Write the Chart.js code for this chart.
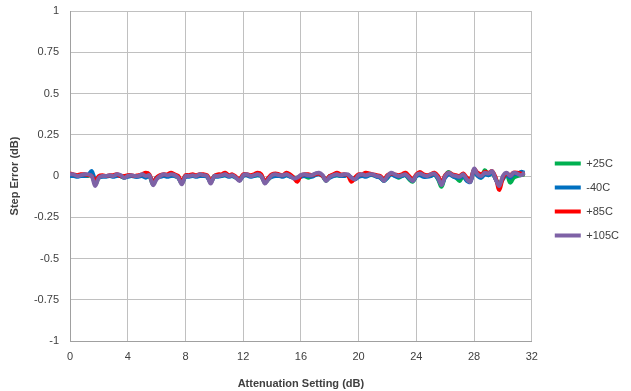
<!DOCTYPE html>
<html>
<head>
<meta charset="utf-8">
<script src="https://cdn.jsdelivr.net/npm/chart.js@4"></script>
<style>
    html, body { margin: 0; padding: 0; background: #ffffff; }
    #wrap { width: 631px; height: 391px; }
</style>
</head>
<body>
<div id="wrap"><canvas id="step-chart" width="631" height="391"></canvas></div>
<script>
//DATOS
const atten = [
    0, 0.25, 0.5, 0.75, 1, 1.25, 1.5, 1.75,
    2, 2.25, 2.5, 2.75, 3, 3.25, 3.5, 3.75,
    4, 4.25, 4.5, 4.75, 5, 5.25, 5.5, 5.75,
    6, 6.25, 6.5, 6.75, 7, 7.25, 7.5, 7.75,
    8, 8.25, 8.5, 8.75, 9, 9.25, 9.5, 9.75,
    10, 10.25, 10.5, 10.75, 11, 11.25, 11.5, 11.75,
    12, 12.25, 12.5, 12.75, 13, 13.25, 13.5, 13.75,
    14, 14.25, 14.5, 14.75, 15, 15.25, 15.5, 15.75,
    16, 16.25, 16.5, 16.75, 17, 17.25, 17.5, 17.75,
    18, 18.25, 18.5, 18.75, 19, 19.25, 19.5, 19.75,
    20, 20.25, 20.5, 20.75, 21, 21.25, 21.5, 21.75,
    22, 22.25, 22.5, 22.75, 23, 23.25, 23.5, 23.75,
    24, 24.25, 24.5, 24.75, 25, 25.25, 25.5, 25.75,
    26, 26.25, 26.5, 26.75, 27, 27.25, 27.5, 27.75,
    28, 28.25, 28.5, 28.75, 29, 29.25, 29.5, 29.75,
    30, 30.25, 30.5, 30.75, 31, 31.25, 31.5
];

const seriesNames = ['+25C', '-40C', '+85C', '+105C'];

const err25 = [
    0.005, 0.005, 0, 0.005, 0.005, 0, 0.01, -0.05,
    -0.01, 0, 0, 0, 0, 0.005, 0, -0.01,
    0, 0, 0, 0, 0.005, 0, 0, -0.05,
    -0.015, 0, 0.005, 0, 0.005, 0, -0.01, -0.045,
    0, 0, 0, 0, 0.005, 0.005, 0, -0.04,
    0, 0, 0, 0.005, 0, 0, -0.01, -0.025,
    0.005, 0.005, 0, 0, 0.005, 0, -0.04, -0.02,
    0, 0.005, 0, 0, 0.005, 0, -0.01, -0.01,
    0, 0, -0.01, 0, 0.01, 0.015, 0, -0.03,
    0, 0, 0.005, 0, 0.005, 0.005, -0.01, -0.02,
    0, 0.005, 0, 0.005, 0.005, 0, -0.01, -0.03,
    -0.01, 0.015, 0.005, -0.01, 0, 0.005, -0.02, -0.035,
    0, 0.01, 0, 0, 0, 0.01, -0.02, -0.065,
    0, 0.025, 0, -0.01, -0.03, 0, -0.025, -0.03,
    0.035, 0.005, -0.01, 0.035, 0.005, 0.02, -0.02, -0.05,
    -0.01, 0.015, -0.04, -0.01, 0, 0.005, 0.01
];

const errM40 = [
    0, 0, -0.005, 0, 0, 0.005, 0.03, -0.02,
    -0.01, -0.005, -0.005, 0, -0.005, 0, 0, -0.01,
    -0.005, 0, -0.005, -0.005, 0, -0.01, 0, -0.04,
    -0.01, -0.005, 0, -0.005, 0, 0, -0.01, -0.04,
    -0.005, -0.005, 0, -0.005, 0, 0, -0.005, -0.035,
    -0.005, -0.005, 0, 0.005, -0.005, 0, -0.01, -0.025,
    0, 0.005, -0.005, 0, 0.005, 0, -0.035, -0.015,
    -0.005, 0, 0, -0.005, 0.005, -0.005, -0.01, -0.015,
    -0.005, 0, 0, -0.005, 0.005, 0.01, 0, -0.025,
    -0.01, 0, 0.005, 0, 0, 0.005, -0.01, -0.02,
    -0.005, 0, -0.005, 0.005, 0.005, -0.005, -0.01, -0.03,
    -0.01, 0.01, 0, -0.005, 0, 0.005, -0.015, -0.03,
    0, 0.005, -0.005, -0.005, 0, 0.01, -0.015, -0.05,
    -0.01, 0.01, 0, -0.01, -0.01, 0, -0.03, -0.035,
    0.03, 0, -0.01, 0.01, 0.005, 0.02, -0.02, -0.05,
    -0.02, 0.01, -0.01, 0.015, 0.01, 0.025, 0.02
];

const err85 = [
    0.015, 0.01, 0.005, 0.01, 0.01, 0.005, 0, -0.03,
    0, 0.005, 0, 0.005, 0.005, 0.01, 0, 0,
    0.005, 0.005, 0, 0.005, 0.01, 0.02, 0.01, -0.04,
    -0.01, 0.005, 0.01, 0.01, 0.02, 0.01, 0, -0.035,
    0.005, 0.005, 0.01, 0.005, 0.01, 0.01, 0.005, -0.03,
    0, 0.01, 0.01, 0.02, 0.005, 0.01, -0.005, -0.02,
    0.01, 0.01, 0.005, 0.01, 0.02, 0.01, -0.035, -0.01,
    0.01, 0.015, 0.01, 0.005, 0.02, 0.01, -0.01, -0.035,
    0.005, 0.01, 0.01, 0.005, 0.01, 0.015, 0, -0.02,
    0, 0.01, 0.02, 0.01, 0.01, 0.005, -0.035, -0.01,
    0.01, 0.01, 0.02, 0.015, 0.01, 0.005, 0, -0.02,
    0.005, 0.015, 0.01, 0.005, 0.01, 0.02, 0, -0.02,
    0.01, 0.025, 0.01, 0.005, 0.01, 0.02, 0, -0.04,
    0.005, 0.02, 0.01, 0.005, 0, 0.015, -0.01, -0.02,
    0.04, 0.02, 0.01, 0.025, 0.02, 0.03, -0.01, -0.085,
    -0.01, 0.015, 0.005, 0.02, 0.02, 0.015, 0.01
];

const err105 = [
    0.01, 0.01, 0, 0.005, 0.01, 0.01, 0, -0.06,
    -0.01, 0, 0, 0.005, 0, 0.01, 0.005, -0.01,
    0, 0.005, 0, 0, 0.01, 0, 0.005, -0.055,
    -0.02, 0, 0.01, 0.005, 0.01, 0.005, -0.01, -0.05,
    0, 0, 0.005, 0, 0.01, 0.005, 0, -0.045,
    0, 0, 0.005, 0.01, 0, 0.005, -0.01, -0.03,
    0.005, 0.01, 0, 0.005, 0.01, 0, -0.045, -0.02,
    0.005, 0.01, 0.005, 0.005, 0.01, 0, -0.015, -0.01,
    0.005, 0.01, 0.005, 0.005, 0.015, 0.02, 0.005, -0.03,
    -0.005, 0.005, 0.01, 0.005, 0.01, 0.01, -0.01, -0.02,
    0.005, 0.01, 0.005, 0.01, 0.01, 0, -0.005, -0.03,
    0, 0.02, 0.01, 0, 0.005, 0.01, -0.01, -0.03,
    0.005, 0.015, 0.005, 0, 0.01, 0.015, -0.01, -0.055,
    0, 0.02, 0.005, 0, -0.005, 0.01, -0.02, -0.035,
    0.045, 0.01, 0, 0.02, 0.015, 0.03, -0.02, -0.06,
    0, 0.02, 0, 0.02, 0.015, 0.005, 0.02
];

const xTicks = [0, 4, 8, 12, 16, 20, 24, 28, 32];
const yTicks = [-1, -0.75, -0.5, -0.25, 0, 0.25, 0.5, 0.75, 1];

function toPoints(values) {
    return values.map(function (v, i) {
        return { x: atten[i], y: v };
    });
}

function makeSet(label, values, color, order) {
    return {
        label: label,
        data: toPoints(values),
        borderColor: color,
        backgroundColor: color,
        borderWidth: 4,
        pointRadius: 0,
        tension: 0.35,
        fill: false,
        order: order
    };
}

// mueve la leyenda como en Excel
const legendShift = {
    id: 'legendShift',
    afterLayout: function (chart) {
        const lg = chart.legend;
        if (lg) {
            lg.left += 10;
            lg.right += 10;
            lg.top += 4;
            lg.bottom += 4;
        }
    }
};

const ctx = document.getElementById('step-chart');

new Chart(ctx, {
    type: 'line',

    data: {
        datasets: [
            makeSet(seriesNames[0], err25, '#00b050', 4),
            makeSet(seriesNames[1], errM40, '#0070c0', 3),
            makeSet(seriesNames[2], err85, '#ff0000', 2),
            makeSet(seriesNames[3], err105, '#7e62a6', 1)
        ]
    },

    plugins: [legendShift],

    options: {
        responsive: false,
        animation: false,
        layout: {
            padding: { top: 0, right: 12, bottom: 0, left: 0 }
        },
        plugins: {
            legend: {
                position: 'right',
                labels: {
                    boxWidth: 26,
                    boxHeight: 4,
                    padding: 13,
                    color: '#404040',
                    font: { family: 'Liberation Sans', size: 11 },
                    generateLabels: function (chart) {
                        const items = Chart.defaults.plugins.legend.labels.generateLabels(chart);
                        items.forEach(function (it) {
                            it.lineWidth = 0;
                            it.strokeStyle = 'rgba(0,0,0,0)';
                        });
                        return items;
                    },
                    sort: function (a, b) {
                        return a.datasetIndex - b.datasetIndex;
                    }
                }
            },
            tooltip: { enabled: false }
        },
        scales: {
            x: {
                type: 'linear',
                min: 0,
                max: 32,
                afterBuildTicks: function (scale) {
                    scale.ticks = xTicks.map(function (v) { return { value: v }; });
                },
                ticks: {
                    color: '#404040',
                    font: { family: 'Liberation Sans', size: 11 },
                    padding: 9
                },
                grid: { color: '#c0c0c0', drawTicks: false },
                border: { color: '#a0a0a0' },
                title: {
                    display: true,
                    text: 'Attenuation Setting (dB)',
                    color: '#404040',
                    font: { family: 'Liberation Sans', size: 11, weight: 'bold' },
                    padding: { top: 6, bottom: 0 }
                },
                afterFit: function (scale) {
                    scale.height = 50;
                }
            },
            y: {
                min: -1,
                max: 1,
                afterBuildTicks: function (scale) {
                    scale.ticks = yTicks.map(function (v) { return { value: v }; });
                },
                ticks: {
                    color: '#404040',
                    font: { family: 'Liberation Sans', size: 11 },
                    padding: 11,
                    callback: function (value) {
                        return String(Math.round(value * 100) / 100);
                    }
                },
                grid: { color: '#c0c0c0', drawTicks: false },
                border: { color: '#a0a0a0' },
                title: {
                    display: true,
                    text: 'Step Error (dB)',
                    color: '#404040',
                    font: { family: 'Liberation Sans', size: 11, weight: 'bold' },
                    padding: { top: 8, bottom: 10 }
                },
                afterFit: function (scale) {
                    scale.width = 70;
                    scale.paddingTop = 11;
                    scale.paddingBottom = 0;
                }
            }
        }
    }
});
</script>
</body>
</html>
